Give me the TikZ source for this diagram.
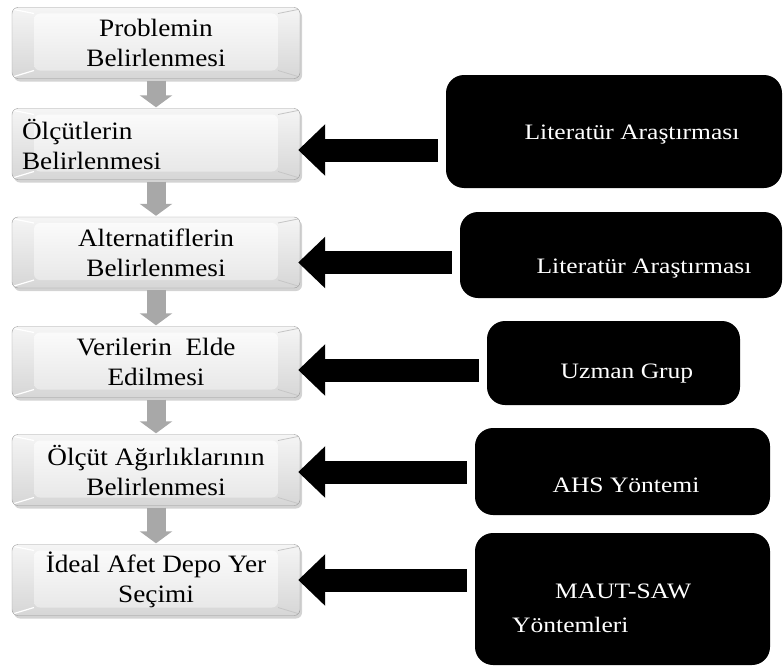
\documentclass[tikz,border=0pt]{standalone}
\usepackage{fontspec}
\setmainfont{Liberation Serif}[FakeStretch=1.09]
\newfontfamily\sidefont{Liberation Serif}[FakeStretch=1.16]
\usetikzlibrary{arrows.meta,positioning,calc,shadows}
\definecolor{flowgray}{HTML}{A8A8A8}
\definecolor{edgegray}{HTML}{9A9A9A}

\tikzset{
  stepbox/.style={rounded corners=6pt, draw=edgegray, top color=gray!8, bottom color=gray!32,
    minimum width=288pt, minimum height=71pt, inner sep=0pt, align=center,
    font=\fontsize{25}{30}\selectfont,
    drop shadow={opacity=0.35, shadow xshift=2pt, shadow yshift=-3pt},
    path picture={
      \shade[top color=gray!2, bottom color=gray!20]
        ($(path picture bounding box.north west)+(22,6)$) rectangle ($(path picture bounding box.south east)+(-22,-8)$);
      \draw[white, line width=1.2pt]
        ($(path picture bounding box.north west)+(2,2)$) -- ($(path picture bounding box.north west)+(22,6)$)
        ($(path picture bounding box.south west)+(2,-2)$) -- ($(path picture bounding box.south west)+(22,-8)$);
      \draw[gray!45, line width=0.8pt]
        ($(path picture bounding box.north east)+(-2,2)$) -- ($(path picture bounding box.north east)+(-22,6)$)
        ($(path picture bounding box.south east)+(-2,-2)$) -- ($(path picture bounding box.south east)+(-22,-8)$);
    }},
  sidebox/.style={fill=black, rounded corners=18pt, inner sep=0pt},
  sidetext/.style={text=white, inner sep=0pt, font=\sidefont\fontsize{22}{34}\selectfont},
  flowarrow/.style={flowgray, line width=19pt, -{Triangle[width=32pt,length=12pt]}},
  bigarrow/.style={black, line width=23pt, -{Triangle[width=50pt,length=27pt]}}
}

\begin{document}
\begin{tikzpicture}[x=1pt, y=-1pt]
  \useasboundingbox (0,0) rectangle (783,669);

  % Steps
  \node[stepbox] (prob) at (156,43) {Problemin\\Belirlenmesi};
  \node[stepbox, text width=268pt, align=left] (olcut) at (156,144) {Ölçütlerin\\Belirlenmesi};
  \node[stepbox] (alt) at (156,252.5) {Alternatiflerin\\Belirlenmesi};
  \node[stepbox] (veri) at (156,362) {Verilerin\ \ Elde\\Edilmesi};
  \node[stepbox] (agirlik) at (156,470) {Ölçüt Ağırlıklarının\\Belirlenmesi};
  \node[stepbox] (secim) at (156,580) {İdeal Afet Depo Yer\\Seçimi};

  % Flow between steps
  \foreach \a/\b in {prob/olcut, olcut/alt, alt/veri, veri/agirlik, agirlik/secim}
    \draw[flowarrow, shorten <=2pt, shorten >=1pt] (\a.south) -- (\b.north);

  % Sources
  \node[sidebox, minimum width=336pt, minimum height=113pt] (litA) at (614,131.5) {};
  \node[sidebox, minimum width=322pt, minimum height=86pt] (litB) at (621,255) {};
  \node[sidebox, minimum width=253pt, minimum height=84pt] (uzman) at (613.5,363) {};
  \node[sidebox, minimum width=295pt, minimum height=87pt] (ahs) at (622.5,471.5) {};
  \node[sidebox, minimum width=295pt, minimum height=132pt] (maut) at (622.5,599) {};

  \node[sidetext, anchor=base] (litAtext) at (632,139) {Literatür Araştırması};
  \node[sidetext, anchor=base] (litBtext) at (644,273) {Literatür Araştırması};
  \node[sidetext, anchor=base] (uzmantext) at (627,378) {Uzman Grup};
  \node[sidetext, anchor=base] (ahstext) at (626,492) {AHS Yöntemi};
  \node[sidetext, anchor=base west, align=left] (mauttext) at (512,632) {\hspace*{43pt}MAUT-SAW\\Yöntemleri};

  % Inputs
  \foreach \r/\l/\dy in {litA/olcut/6, litB/alt/10, uzman/veri/8, ahs/agirlik/2, maut/secim/0}
    \draw[bigarrow] ($(\r.west |- \l.east)+(-8,\dy)$) -- ($(\l.east)+(-2,\dy)$);
\end{tikzpicture}
\end{document}
